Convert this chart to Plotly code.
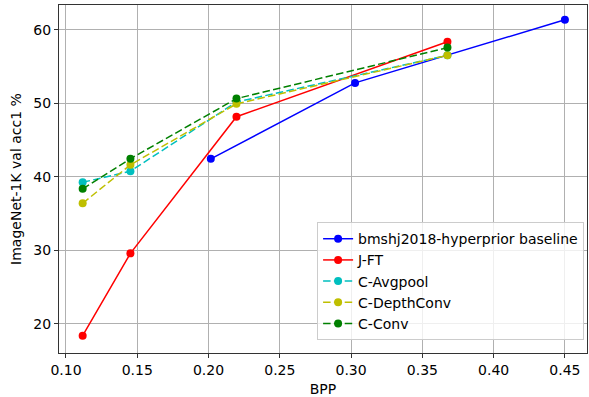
import plotly.graph_objects as go

baseline_x = [0.2016, 0.3028, 0.450]
baseline_y = [42.46, 52.8, 61.38]

jft_x = [0.1117, 0.1452, 0.2196, 0.3676]
jft_y = [18.39, 29.6, 48.2, 58.4]

c_x = [0.1117, 0.1452, 0.2196, 0.3676]
avgpool_y = [39.27, 40.78, 50.2, 56.55]
depthconv_y = [36.42, 41.65, 49.95, 56.55]
conv_y = [38.39, 42.48, 50.66, 57.6]

series = [
    ("bmshj2018-hyperprior baseline", baseline_x, baseline_y, "#0000ff", "solid"),
    ("J-FT", jft_x, jft_y, "#ff0000", "solid"),
    ("C-Avgpool", c_x, avgpool_y, "#00bfbf", "7.5px,3.3px"),
    ("C-DepthConv", c_x, depthconv_y, "#bfbf00", "7.5px,3.3px"),
    ("C-Conv", c_x, conv_y, "#008000", "7.5px,3.3px"),
]

fig = go.Figure()
for name, xs, ys, color, dash in series:
    fig.add_trace(go.Scatter(
        x=xs, y=ys, name=name, mode="lines+markers",
        line=dict(color=color, width=1.5, dash=dash),
        marker=dict(color=color, size=8, symbol="circle"),
    ))

font = dict(family="DejaVu Sans", size=14, color="black")
axis_common = dict(
    showgrid=True, gridcolor="#b0b0b0", gridwidth=0.8,
    showline=True, linecolor="#333333", linewidth=1, mirror=True,
    ticks="outside", ticklen=4, tickcolor="#333333", tickwidth=1,
    zeroline=False, tickfont=font,
)

fig.update_layout(
    width=589, height=397,
    margin=dict(l=59, r=2, t=5, b=44),
    paper_bgcolor="white", plot_bgcolor="white",
    font=font,
    showlegend=True,
    legend=dict(
        x=0.9945, y=0.037, xanchor="right", yanchor="bottom",
        bgcolor="rgba(255,255,255,0.8)", bordercolor="#cccccc", borderwidth=1,
        font=font, tracegroupgap=0, itemwidth=30,
    ),
    xaxis=dict(
        range=[0.0951, 0.4655], tickvals=[0.10, 0.15, 0.20, 0.25, 0.30, 0.35, 0.40, 0.45],
        tickformat=".2f",
        title=dict(text="BPP", font=font, standoff=8),
        **axis_common,
    ),
    yaxis=dict(
        range=[16.04, 63.4], tickvals=[20, 30, 40, 50, 60],
        title=dict(text="ImageNet-1K val acc1 %", font=font, standoff=8),
        **axis_common,
    ),
)

fig.write_html("out.html")
